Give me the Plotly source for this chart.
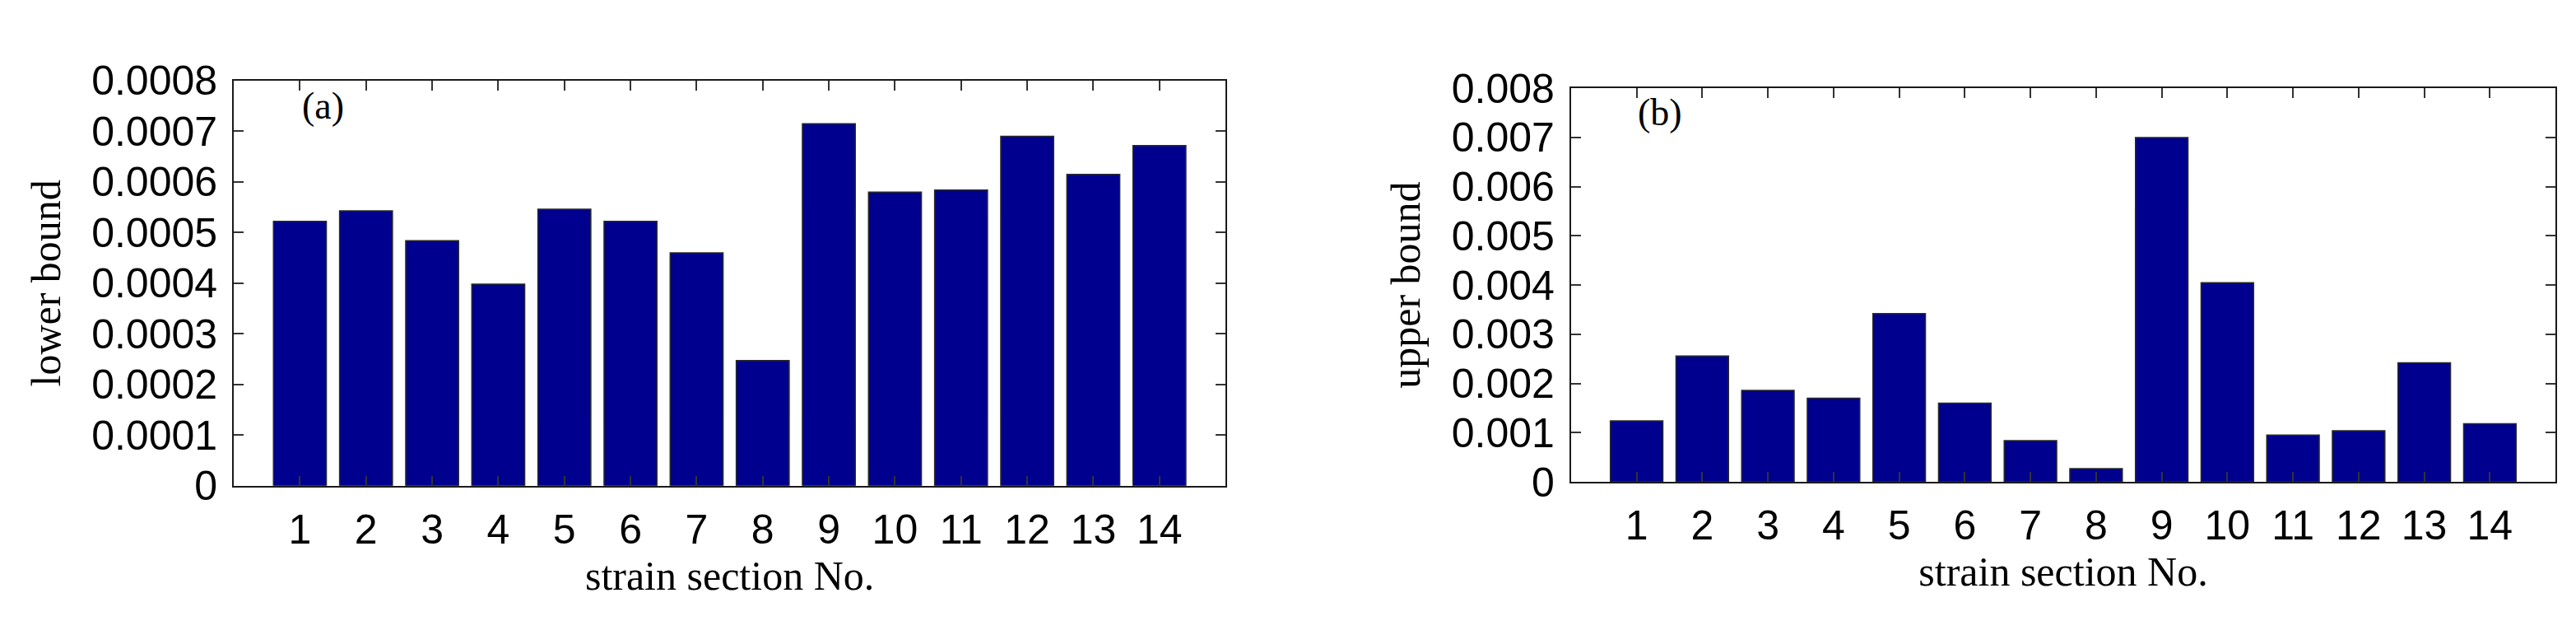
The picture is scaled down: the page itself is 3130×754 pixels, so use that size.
"""
Strain section bounds, two bar panels side by side
"""
import plotly.graph_objects as go
from plotly.subplots import make_subplots

sections = list(range(1, 15))
lower_bound = [0.000522, 0.000543, 0.000484, 0.000398, 0.000546, 0.000522, 0.00046,
               0.000247, 0.000715, 0.00058, 0.000584, 0.00069, 0.000615, 0.000672]
upper_bound = [0.00124, 0.00256, 0.00186, 0.0017, 0.00342, 0.0016, 0.00084,
               0.00027, 0.00700, 0.00405, 0.00095, 0.00104, 0.00242, 0.00118]

lower_ticks = [0, 0.0001, 0.0002, 0.0003, 0.0004, 0.0005, 0.0006, 0.0007, 0.0008]
lower_labels = ['0', '0.0001', '0.0002', '0.0003', '0.0004', '0.0005', '0.0006', '0.0007', '0.0008']
upper_ticks = [0, 0.001, 0.002, 0.003, 0.004, 0.005, 0.006, 0.007, 0.008]
upper_labels = ['0', '0.001', '0.002', '0.003', '0.004', '0.005', '0.006', '0.007', '0.008']

panel_labels = ['(a)', '(b)']
y_titles = ['lower bound', 'upper bound']
x_title = 'strain section No.'

BAR_COLOR = '#00008F'
SANS = 'Liberation Sans, Arial, sans-serif'
SERIF = 'Liberation Serif, Times New Roman, serif'

fig = make_subplots(rows=1, cols=2)

for col, vals in [(1, lower_bound), (2, upper_bound)]:
    fig.add_trace(go.Bar(x=sections, y=vals, marker_color=BAR_COLOR,
                         marker_line_color='#2a2a2a', marker_line_width=1.5,
                         width=0.8, showlegend=False), row=1, col=col)

axis_style = dict(showline=True, linecolor='#1a1a1a', linewidth=2, mirror='ticks',
                  ticks='inside', ticklen=12, tickwidth=2, tickcolor='#333333',
                  showgrid=False, zeroline=False,
                  tickfont=dict(family=SANS, size=50, color='black'))

fig.update_xaxes(axis_style)
fig.update_yaxes(axis_style)

fig.update_xaxes(range=[0, 15], tickvals=sections, ticklabelstandoff=8,
                 title=dict(text=x_title, font=dict(family=SERIF, size=50, color='black'),
                            standoff=6))

fig.update_layout(
    xaxis=dict(domain=[0.0882, 0.4732]),
    xaxis2=dict(domain=[0.6073, 0.9895]),
    yaxis=dict(domain=[0.2056, 0.9111], range=[0, 0.0008],
               tickvals=lower_ticks, ticktext=lower_labels, ticklabelstandoff=8,
               title=dict(text=y_titles[0], font=dict(family=SERIF, size=50, color='black'),
                          standoff=22)),
    yaxis2=dict(domain=[0.2122, 0.8979], range=[0, 0.008],
                tickvals=upper_ticks, ticktext=upper_labels, ticklabelstandoff=8,
                title=dict(text=y_titles[1], font=dict(family=SERIF, size=50, color='black'),
                           standoff=22)),
    width=3130, height=754,
    margin=dict(l=0, r=0, t=0, b=0),
    paper_bgcolor='white', plot_bgcolor='white',
    bargap=0.2,
)

for i, label in enumerate(panel_labels):
    fig.add_annotation(text=label, xref='x%s domain' % ('' if i == 0 else '2'),
                       yref='y%s domain' % ('' if i == 0 else '2'),
                       x=0.09, y=0.938, xanchor='center', yanchor='middle',
                       showarrow=False, font=dict(family=SERIF, size=46, color='black'))

fig.write_html("out.html")
